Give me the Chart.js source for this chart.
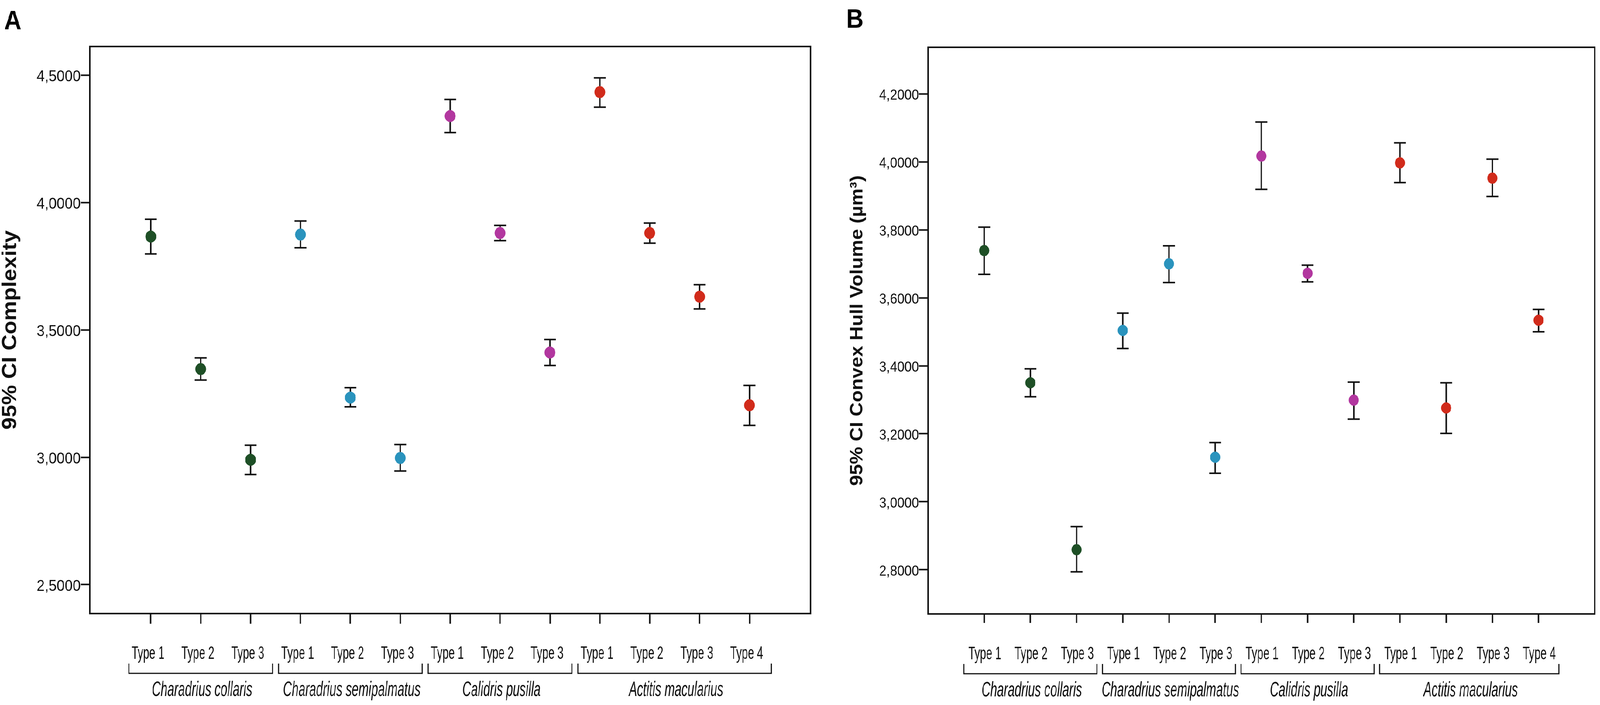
<!DOCTYPE html>
<html lang="en">
<head>
    <meta charset="UTF-8">
    <title>95% CI Complexity and Convex Hull Volume</title>
    <script src="https://cdn.jsdelivr.net/npm/chart.js"></script>
    <style>
        html, body {
            margin: 0;
            padding: 0;
            background: #ffffff;
            overflow: hidden;
            font-family: 'Liberation Sans', Arial, sans-serif;
        }

        /* the figure is laid out at 4562x1804 and fitted to the window */
        #figure {
            position: absolute;
            left: 0;
            top: 0;
            width: 4562px;
            height: 1804px;
            transform-origin: 0 0;
        }

        .panel {
            position: absolute;
            top: 0;
            height: 1804px;
        }

        #panelA { left: 0; width: 2330px; }
        #panelB { left: 2330px; width: 2232px; }
    </style>
</head>
<body>
    <div id="figure">
        <div class="panel" id="panelA"><canvas id="chartA"></canvas></div>
        <div class="panel" id="panelB"><canvas id="chartB"></canvas></div>
    </div>

    <script>
        // categories
        const species = ['Charadrius collaris', 'Charadrius semipalmatus', 'Calidris pusilla', 'Actitis macularius'];
        const typesPerSpecies = [3, 3, 3, 4];
        const typeLabels = ['Type 1', 'Type 2', 'Type 3', 'Type 1', 'Type 2', 'Type 3',
                            'Type 1', 'Type 2', 'Type 3', 'Type 1', 'Type 2', 'Type 3', 'Type 4'];
        const speciesColors = ['#1e4f26', '#2a93bd', '#b2379f', '#d12b1b'];

        // panel A: complexity, mean and 95% CI
        const complexityMean = [3.866, 3.346, 2.990, 3.874, 3.234, 2.997, 4.339, 3.880, 3.411, 4.433, 3.880, 3.630, 3.204];
        const complexityLow  = [3.798, 3.303, 2.932, 3.822, 3.198, 2.946, 4.274, 3.850, 3.360, 4.374, 3.840, 3.582, 3.125];
        const complexityHigh = [3.934, 3.390, 3.047, 3.927, 3.273, 3.050, 4.404, 3.910, 3.462, 4.489, 3.919, 3.677, 3.282];

        // panel B: convex hull volume, mean and 95% CI
        const volumeMean = [3.739, 3.350, 2.859, 3.504, 3.700, 3.131, 4.017, 3.672, 3.299, 3.997, 3.276, 3.952, 3.534];
        const volumeLow  = [3.669, 3.309, 2.794, 3.451, 3.645, 3.084, 3.919, 3.647, 3.243, 3.939, 3.201, 3.898, 3.500];
        const volumeHigh = [3.808, 3.391, 2.927, 3.555, 3.753, 3.174, 4.117, 3.696, 3.352, 4.056, 3.350, 4.008, 3.566];

        const FONT = "'Liberation Sans', Arial, sans-serif";

        // fit the figure into the window (the window may be narrower than 4562)
        const fig = document.getElementById('figure');
        const fitX = Math.min(1, window.innerWidth / 4562);
        const fitY = Math.min(1, window.innerHeight / 1804);
        fig.style.transform = 'scale(' + fitX + ',' + fitY + ')';

        // colour of each point from its species
        const pointColors = [];
        typesPerSpecies.forEach((n, g) => {
            for (let k = 0; k < n; k++) pointColors.push(speciesColors[g]);
        });

        function squishText(ctx, text, x, y, sx) {
            ctx.save();
            ctx.translate(x, y);
            ctx.scale(sx, 1);
            ctx.fillText(text, 0, 0);
            ctx.restore();
        }

        // error bars, frame, type labels, species brackets, panel letter
        function decorPlugin(p) {
            return {
                id: 'decor',
                beforeDatasetsDraw(chart) {
                    const { ctx, scales: { x, y } } = chart;
                    ctx.save();
                    ctx.strokeStyle = '#111';
                    ctx.lineWidth = 4;
                    p.low.forEach((lo, i) => {
                        const px = x.getPixelForValue(i);
                        const pl = y.getPixelForValue(lo);
                        const ph = y.getPixelForValue(p.high[i]);
                        ctx.beginPath();
                        ctx.moveTo(px, ph); ctx.lineTo(px, pl);
                        ctx.moveTo(px - p.cap, ph); ctx.lineTo(px + p.cap, ph);
                        ctx.moveTo(px - p.cap, pl); ctx.lineTo(px + p.cap, pl);
                        ctx.stroke();
                    });
                    ctx.restore();
                },
                afterDraw(chart) {
                    const { ctx, chartArea: a, scales: { x } } = chart;
                    ctx.save();

                    // top and right side of the frame
                    ctx.strokeStyle = '#111';
                    ctx.lineWidth = 4;
                    ctx.beginPath();
                    ctx.moveTo(a.left - 2, a.top);
                    ctx.lineTo(a.right, a.top);
                    ctx.lineTo(a.right, a.bottom + 2);
                    ctx.stroke();

                    // type labels under the ticks
                    ctx.fillStyle = '#111';
                    ctx.textAlign = 'center';
                    ctx.textBaseline = 'alphabetic';
                    ctx.font = '46px ' + FONT;
                    typeLabels.forEach((t, i) => {
                        squishText(ctx, t, x.getPixelForValue(i) + p.labelShift, a.bottom + 116, 0.68);
                    });

                    // species brackets and names
                    ctx.lineWidth = 3;
                    ctx.font = 'italic 54px ' + FONT;
                    let start = 0;
                    species.forEach((name, g) => {
                        const end = start + typesPerSpecies[g] - 1;
                        const x0 = x.getPixelForValue(start - 0.44);
                        const x1 = x.getPixelForValue(end + 0.44);
                        const yb = a.bottom + 153;
                        ctx.beginPath();
                        ctx.moveTo(x0, yb - 25); ctx.lineTo(x0, yb);
                        ctx.lineTo(x1, yb); ctx.lineTo(x1, yb - 25);
                        ctx.stroke();
                        squishText(ctx, name, (x0 + x1) / 2 + 4, a.bottom + 211, 0.64);
                        start = end + 1;
                    });

                    // panel letter
                    ctx.textAlign = 'left';
                    ctx.font = 'bold 68px ' + FONT;
                    ctx.fillStyle = '#000';
                    ctx.fillText(p.letter, p.letterX, p.letterY);
                    ctx.restore();
                }
            };
        }

        function makeChart(id, p) {
            return new Chart(document.getElementById(id), {
                type: 'scatter',
                data: {
                    datasets: [{
                        data: p.mean.map((v, i) => ({ x: i, y: v })),
                        pointRadius: p.radius,
                        pointHoverRadius: p.radius,
                        pointBackgroundColor: pointColors,
                        pointBorderColor: pointColors,
                        pointBorderWidth: 1
                    }]
                },
                options: {
                    responsive: true,
                    maintainAspectRatio: false,
                    animation: false,
                    layout: { padding: { left: 0, top: p.top, right: p.right, bottom: 0 } },
                    plugins: { legend: { display: false }, tooltip: { enabled: false } },
                    scales: {
                        x: {
                            type: 'linear',
                            min: -p.pad,
                            max: typeLabels.length - 1 + p.pad,
                            afterBuildTicks: (axis) => {
                                axis.ticks = typeLabels.map((_, i) => ({ value: i }));
                            },
                            afterFit: (axis) => { axis.height = p.xHeight; },
                            ticks: { display: false },
                            grid: {
                                drawOnChartArea: false,
                                drawTicks: true,
                                tickLength: p.xTick,
                                tickWidth: 4,
                                tickColor: '#111'
                            },
                            border: { display: true, color: '#111', width: 4 }
                        },
                        y: {
                            min: p.yMin,
                            max: p.yMax,
                            afterFit: (axis) => { axis.width = p.yWidth; },
                            ticks: {
                                stepSize: p.step,
                                includeBounds: false,
                                padding: 0,
                                labelOffset: 5,
                                color: '#111',
                                font: { family: FONT, size: p.tickSize },
                                callback: (v) => v.toFixed(4).replace('.', ',')
                            },
                            grid: {
                                drawOnChartArea: false,
                                drawTicks: true,
                                tickLength: 26,
                                tickWidth: 4,
                                tickColor: '#111'
                            },
                            border: { display: true, color: '#111', width: 4 },
                            title: {
                                display: true,
                                text: p.title,
                                color: '#111',
                                font: { family: FONT, size: p.titleSize, weight: 'bold', lineHeight: 1 },
                                padding: { top: p.titlePad, bottom: 0 }
                            }
                        }
                    }
                },
                plugins: [decorPlugin(p)]
            });
        }

        makeChart('chartA', {
            mean: complexityMean, low: complexityLow, high: complexityHigh,
            title: '95% CI Complexity', titleSize: 57, titlePad: 2,
            yMin: 2.3865, yMax: 4.612, step: 0.5, tickSize: 41,
            top: 119, right: 19, yWidth: 256, xHeight: 234, xTick: 26,
            pad: 1.223, radius: 15, cap: 17, labelShift: -8,
            letter: 'A', letterX: 12, letterY: 75
        });

        makeChart('chartB', {
            mean: volumeMean, low: volumeLow, high: volumeHigh,
            title: '95% CI Convex Hull Volume (µm³)', titleSize: 50, titlePad: 90,
            yMin: 2.670, yMax: 4.337, step: 0.2, tickSize: 37,
            top: 121, right: 11, yWidth: 316, xHeight: 233, xTick: 23,
            pad: 1.216, radius: 14, cap: 17, labelShift: 2,
            letter: 'B', letterX: 83, letterY: 71
        });
    </script>
</body>
</html>
